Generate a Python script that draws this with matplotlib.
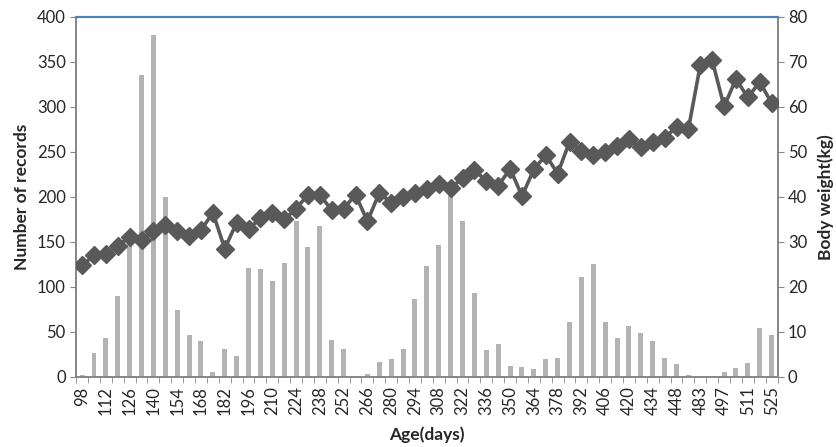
import numpy as np
import matplotlib
matplotlib.use("Agg")
import matplotlib.pyplot as plt

plt.rcParams['font.family'] = ['Lato', 'DejaVu Sans']

# ages (days) - note gap between 455 and 483
ages = list(range(98, 456, 7)) + list(range(483, 526, 7))

records = [2, 26, 43, 90, 150, 335, 380, 200, 74, 47,
           40, 5, 31, 23, 121, 120, 106, 126, 173, 144,
           168, 41, 31, 0, 3, 17, 20, 31, 86, 123,
           146, 210, 173, 93, 30, 36, 12, 11, 9, 20,
           21, 61, 111, 125, 61, 43, 57, 49, 40, 21,
           14, 2, 0, 0, 5, 10, 15, 54, 46]

weight = [24.8, 27.0, 27.4, 29.1, 31.1, 30.5, 32.4, 33.7, 32.4, 31.3,
          32.6, 36.5, 28.5, 34.3, 32.8, 35.3, 36.5, 35.0, 37.4, 40.5,
          40.5, 37.0, 37.4, 40.5, 34.6, 40.9, 38.7, 39.9, 40.9, 41.8,
          42.8, 42.0, 44.1, 45.9, 43.6, 42.4, 46.3, 40.2, 46.1, 49.3,
          45.2, 52.2, 50.2, 49.3, 50.0, 51.4, 52.8, 51.0, 52.2, 53.2,
          55.5, 55.1, 69.3, 70.4, 60.1, 66.2, 62.1, 65.6, 60.8]

x = np.arange(len(ages))
axis_gray = '#868686'
text_col = '#262626'

fig = plt.figure(figsize=(8.37, 4.47), dpi=100)
ax = fig.add_axes([0.091, 0.157, 0.838, 0.805])
ax2 = ax.twinx()

ax.bar(x, records, width=0.42, color='#b3b3b3', zorder=1)
ax2.plot(x, weight, color='#595959', lw=2.6, marker='D', markersize=9,
         markeredgecolor='#595959', markerfacecolor='#595959', zorder=3)

ax.set_xlim(-0.5, len(ages) - 0.5)
ax.set_ylim(0, 400)
ax2.set_ylim(0, 80)
ax.set_yticks(np.arange(0, 401, 50))
ax2.set_yticks(np.arange(0, 81, 10))

ax.set_xticks(x[::2])
ax.set_xticklabels([str(a) for a in ages[::2]], rotation=90, fontsize=12,
                   color=text_col)
ax.set_xticks(np.arange(-0.5, len(ages), 1), minor=True)
ax.tick_params(axis='x', which='major', length=0, pad=7)
ax.tick_params(axis='x', which='minor', length=4, color=axis_gray)
ax.tick_params(axis='y', length=4, color=axis_gray, labelsize=12,
               labelcolor=text_col)
ax2.tick_params(axis='y', length=4, color=axis_gray, labelsize=12,
                labelcolor=text_col)

for a in (ax, ax2):
    for s in ('left', 'right', 'bottom'):
        a.spines[s].set_color(axis_gray)
        a.spines[s].set_linewidth(1.2)
    a.spines['top'].set_color('#4f81bd')
    a.spines['top'].set_linewidth(1.5)

ax.set_ylabel('Number of records', fontsize=12.5, fontweight='bold',
              labelpad=5, color=text_col)
ax2.set_ylabel('Body weight(kg)', fontsize=12.5, fontweight='bold',
               labelpad=7, color=text_col)
ax.set_xlabel('Age(days)', fontsize=12.5, fontweight='bold', labelpad=8,
              color=text_col)

ax2.set_zorder(ax.get_zorder() + 1)
ax2.patch.set_visible(False)

fig.savefig('out.png', dpi=100)
